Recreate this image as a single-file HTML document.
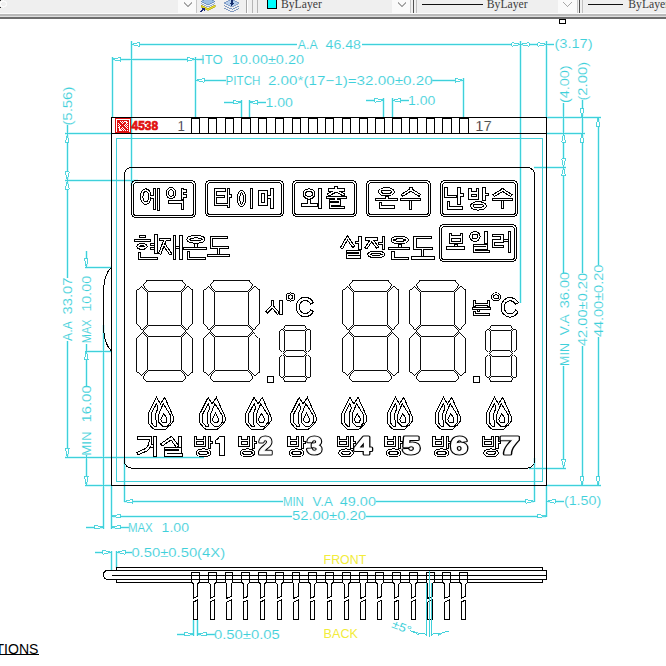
<!DOCTYPE html>
<html><head><meta charset="utf-8"><title>LCD drawing</title>
<style>
html,body{margin:0;padding:0;background:#fff;overflow:hidden;}
body{width:666px;height:666px;font-family:"Liberation Sans",sans-serif;}
svg{display:block;}
</style></head>
<body>
<svg width="666" height="666" viewBox="0 0 666 666" shape-rendering="crispEdges">
<rect width="666" height="666" fill="#fff"/>
<g stroke="#d2f8fb" stroke-width="3"><line x1="131" y1="44.4" x2="296.5" y2="44.4"/>
<line x1="362" y1="44.4" x2="553.5" y2="44.4"/>
<line x1="131" y1="41" x2="131" y2="186"/>
<line x1="520.4" y1="41" x2="520.4" y2="303"/>
<line x1="546.4" y1="41" x2="546.4" y2="117.5"/>
<line x1="112" y1="59.3" x2="203.5" y2="59.3"/>
<line x1="112" y1="57" x2="112" y2="117.5"/>
<line x1="195.7" y1="57" x2="195.7" y2="117.5"/>
<line x1="195.7" y1="80.3" x2="226" y2="80.3"/>
<line x1="432" y1="80.3" x2="463.7" y2="80.3"/>
<line x1="463.7" y1="78" x2="463.7" y2="117.5"/>
<line x1="223.7" y1="102.2" x2="241.6" y2="102.2"/>
<line x1="249.3" y1="102.2" x2="266" y2="102.2"/>
<line x1="241.6" y1="99.5" x2="241.6" y2="117.5"/>
<line x1="249.3" y1="99.5" x2="249.3" y2="117.5"/>
<line x1="366" y1="100.3" x2="383.1" y2="100.3"/>
<line x1="392.3" y1="100.3" x2="408.6" y2="100.3"/>
<line x1="383.1" y1="97.5" x2="383.1" y2="117.5"/>
<line x1="392.3" y1="97.5" x2="392.3" y2="117.5"/>
<line x1="563.6" y1="102.5" x2="563.6" y2="272.5"/>
<line x1="563.6" y1="365.5" x2="563.6" y2="468.2"/>
<line x1="534.3" y1="167.3" x2="566" y2="167.3"/>
<line x1="528.5" y1="468" x2="566" y2="468"/>
<line x1="582" y1="100" x2="582" y2="273.4"/>
<line x1="582" y1="345.6" x2="582" y2="485.3"/>
<line x1="546.4" y1="133.4" x2="584.5" y2="133.4"/>
<line x1="598" y1="117.4" x2="598" y2="265.3"/>
<line x1="598" y1="336.6" x2="598" y2="485.3"/>
<line x1="546.4" y1="117.4" x2="600.5" y2="117.4"/>
<line x1="546.4" y1="485.3" x2="600.5" y2="485.3"/>
<line x1="67.3" y1="125" x2="67.3" y2="278"/>
<line x1="67.3" y1="340.5" x2="67.3" y2="457"/>
<line x1="64.5" y1="133.5" x2="111.5" y2="133.5"/>
<line x1="64.5" y1="180.4" x2="137.5" y2="180.4"/>
<line x1="64.5" y1="457" x2="204" y2="457"/>
<line x1="86.3" y1="250.8" x2="86.3" y2="267.2"/>
<line x1="86.3" y1="343.8" x2="86.3" y2="385.8"/>
<line x1="86.3" y1="455.3" x2="86.3" y2="485"/>
<line x1="84.5" y1="267.2" x2="111.5" y2="267.2"/>
<line x1="84.5" y1="351" x2="111.5" y2="351"/>
<line x1="84.5" y1="485" x2="111.5" y2="485"/>
<line x1="103.4" y1="324.5" x2="103.4" y2="529"/>
<line x1="111.6" y1="485" x2="111.6" y2="529"/>
<line x1="86" y1="527.2" x2="103.4" y2="527.2"/>
<line x1="111.6" y1="527.2" x2="128.5" y2="527.2"/>
<line x1="124.3" y1="458" x2="124.3" y2="502"/>
<line x1="534.3" y1="458" x2="534.3" y2="502"/>
<line x1="124.3" y1="501.3" x2="283" y2="501.3"/>
<line x1="375.8" y1="501.3" x2="534.3" y2="501.3"/>
<line x1="546.4" y1="485.5" x2="546.4" y2="517"/>
<line x1="111.6" y1="516.1" x2="292" y2="516.1"/>
<line x1="366" y1="516.1" x2="546.4" y2="516.1"/>
<line x1="546.4" y1="501.3" x2="563.8" y2="501.3"/>
<line x1="111.4" y1="550.5" x2="111.4" y2="570.6"/>
<line x1="116.4" y1="550.5" x2="116.4" y2="567.5"/>
<line x1="95" y1="552.3" x2="111.4" y2="552.3"/>
<line x1="116.4" y1="552.3" x2="132.3" y2="552.3"/>
<line x1="193.5" y1="619.5" x2="193.5" y2="636"/>
<line x1="197.4" y1="619.5" x2="197.4" y2="636"/>
<line x1="176.7" y1="634.2" x2="193.5" y2="634.2"/>
<line x1="197.4" y1="634.2" x2="214.6" y2="634.2"/></g>
<line x1="131" y1="44.4" x2="296.5" y2="44.4" stroke="#3fd0da" stroke-width="1"/>
<line x1="362" y1="44.4" x2="553.5" y2="44.4" stroke="#3fd0da" stroke-width="1"/>
<line x1="131" y1="41" x2="131" y2="186" stroke="#3fd0da" stroke-width="1"/>
<polygon points="131,44.4 139.6,42.5 139.6,46.3" fill="#fff" stroke="#3fd0da" stroke-width="0.9"/>
<polygon points="520.4,44.4 511.8,42.5 511.8,46.3" fill="#fff" stroke="#3fd0da" stroke-width="0.9"/>
<polygon points="520.4,44.4 529,42.5 529,46.3" fill="#fff" stroke="#3fd0da" stroke-width="0.9"/>
<polygon points="546.4,44.4 537.8,42.5 537.8,46.3" fill="#fff" stroke="#3fd0da" stroke-width="0.9"/>
<line x1="520.4" y1="41" x2="520.4" y2="303" stroke="#3fd0da" stroke-width="1"/>
<line x1="546.4" y1="41" x2="546.4" y2="117.5" stroke="#3fd0da" stroke-width="1"/>
<text xml:space="preserve" x="297.8" y="49.2" font-family="Liberation Sans" font-size="12.4" font-weight="normal" fill="#3fd0da" text-anchor="start" textLength="19.8" lengthAdjust="spacingAndGlyphs" stroke="#fff" stroke-width="0.12">A.A</text>
<text xml:space="preserve" x="325.6" y="49.2" font-family="Liberation Sans" font-size="12.4" font-weight="normal" fill="#3fd0da" text-anchor="start" textLength="35.3" lengthAdjust="spacingAndGlyphs" stroke="#fff" stroke-width="0.12">46.48</text>
<text xml:space="preserve" x="554.4" y="48.2" font-family="Liberation Sans" font-size="12.4" font-weight="normal" fill="#3fd0da" text-anchor="start" textLength="38.2" lengthAdjust="spacingAndGlyphs" stroke="#fff" stroke-width="0.12">(3.17)</text>
<line x1="112" y1="59.3" x2="203.5" y2="59.3" stroke="#3fd0da" stroke-width="1"/>
<line x1="112" y1="57" x2="112" y2="117.5" stroke="#3fd0da" stroke-width="1"/>
<line x1="195.7" y1="57" x2="195.7" y2="117.5" stroke="#3fd0da" stroke-width="1"/>
<polygon points="112,59.3 120.6,57.4 120.6,61.2" fill="#fff" stroke="#3fd0da" stroke-width="0.9"/>
<polygon points="195.7,59.3 187.1,57.4 187.1,61.2" fill="#fff" stroke="#3fd0da" stroke-width="0.9"/>
<text xml:space="preserve" x="201" y="63.8" font-family="Liberation Sans" font-size="12.4" font-weight="normal" fill="#3fd0da" text-anchor="start" textLength="21.6" lengthAdjust="spacingAndGlyphs" stroke="#fff" stroke-width="0.12">ITO</text>
<text xml:space="preserve" x="231.8" y="63.8" font-family="Liberation Sans" font-size="12.4" font-weight="normal" fill="#3fd0da" text-anchor="start" textLength="72.2" lengthAdjust="spacingAndGlyphs" stroke="#fff" stroke-width="0.12">10.00±0.20</text>
<line x1="195.7" y1="80.3" x2="226" y2="80.3" stroke="#3fd0da" stroke-width="1"/>
<line x1="432" y1="80.3" x2="463.7" y2="80.3" stroke="#3fd0da" stroke-width="1"/>
<line x1="463.7" y1="78" x2="463.7" y2="117.5" stroke="#3fd0da" stroke-width="1"/>
<polygon points="195.7,80.3 204.3,78.4 204.3,82.2" fill="#fff" stroke="#3fd0da" stroke-width="0.9"/>
<polygon points="463.7,80.3 455.1,78.4 455.1,82.2" fill="#fff" stroke="#3fd0da" stroke-width="0.9"/>
<text xml:space="preserve" x="225.6" y="84.6" font-family="Liberation Sans" font-size="12.4" font-weight="normal" fill="#3fd0da" text-anchor="start" textLength="34.8" lengthAdjust="spacingAndGlyphs" stroke="#fff" stroke-width="0.12">PITCH</text>
<text xml:space="preserve" x="267.9" y="84.6" font-family="Liberation Sans" font-size="12.4" font-weight="normal" fill="#3fd0da" text-anchor="start" textLength="164.7" lengthAdjust="spacingAndGlyphs" stroke="#fff" stroke-width="0.12">2.00*(17−1)=32.00±0.20</text>
<line x1="223.7" y1="102.2" x2="241.6" y2="102.2" stroke="#3fd0da" stroke-width="1"/>
<line x1="249.3" y1="102.2" x2="266" y2="102.2" stroke="#3fd0da" stroke-width="1"/>
<line x1="241.6" y1="99.5" x2="241.6" y2="117.5" stroke="#3fd0da" stroke-width="1"/>
<line x1="249.3" y1="99.5" x2="249.3" y2="117.5" stroke="#3fd0da" stroke-width="1"/>
<polygon points="241.6,102.2 233,100.3 233,104.1" fill="#fff" stroke="#3fd0da" stroke-width="0.9"/>
<polygon points="249.3,102.2 257.9,100.3 257.9,104.1" fill="#fff" stroke="#3fd0da" stroke-width="0.9"/>
<text xml:space="preserve" x="265.4" y="106.6" font-family="Liberation Sans" font-size="12.4" font-weight="normal" fill="#3fd0da" text-anchor="start" textLength="27.4" lengthAdjust="spacingAndGlyphs" stroke="#fff" stroke-width="0.12">1.00</text>
<line x1="366" y1="100.3" x2="383.1" y2="100.3" stroke="#3fd0da" stroke-width="1"/>
<line x1="392.3" y1="100.3" x2="408.6" y2="100.3" stroke="#3fd0da" stroke-width="1"/>
<line x1="383.1" y1="97.5" x2="383.1" y2="117.5" stroke="#3fd0da" stroke-width="1"/>
<line x1="392.3" y1="97.5" x2="392.3" y2="117.5" stroke="#3fd0da" stroke-width="1"/>
<polygon points="383.1,100.3 374.5,98.4 374.5,102.2" fill="#fff" stroke="#3fd0da" stroke-width="0.9"/>
<polygon points="392.3,100.3 400.9,98.4 400.9,102.2" fill="#fff" stroke="#3fd0da" stroke-width="0.9"/>
<text xml:space="preserve" x="408" y="105.2" font-family="Liberation Sans" font-size="12.4" font-weight="normal" fill="#3fd0da" text-anchor="start" textLength="27.3" lengthAdjust="spacingAndGlyphs" stroke="#fff" stroke-width="0.12">1.00</text>
<line x1="563.6" y1="102.5" x2="563.6" y2="272.5" stroke="#3fd0da" stroke-width="1"/>
<line x1="563.6" y1="365.5" x2="563.6" y2="468.2" stroke="#3fd0da" stroke-width="1"/>
<polygon points="563.6,133.4 561.7,142 565.5,142" fill="#fff" stroke="#3fd0da" stroke-width="0.9"/>
<polygon points="563.6,167.3 561.7,158.7 565.5,158.7" fill="#fff" stroke="#3fd0da" stroke-width="0.9"/>
<polygon points="563.6,167.3 561.7,175.9 565.5,175.9" fill="#fff" stroke="#3fd0da" stroke-width="0.9"/>
<polygon points="563.6,468 561.7,459.4 565.5,459.4" fill="#fff" stroke="#3fd0da" stroke-width="0.9"/>
<line x1="534.3" y1="167.3" x2="566" y2="167.3" stroke="#3fd0da" stroke-width="1"/>
<line x1="528.5" y1="468" x2="566" y2="468" stroke="#3fd0da" stroke-width="1"/>
<text xml:space="preserve" x="568.6" y="103.1" font-family="Liberation Sans" font-size="12.4" font-weight="normal" fill="#3fd0da" text-anchor="start" textLength="37.7" lengthAdjust="spacingAndGlyphs" transform="rotate(-90 568.6 103.1)" stroke="#fff" stroke-width="0.12">(4.00)</text>
<text xml:space="preserve" x="568.8" y="365.9" font-family="Liberation Sans" font-size="12.4" font-weight="normal" fill="#3fd0da" text-anchor="start" textLength="22.8" lengthAdjust="spacingAndGlyphs" transform="rotate(-90 568.8 365.9)" stroke="#fff" stroke-width="0.12">MIN</text>
<text xml:space="preserve" x="568.8" y="335.3" font-family="Liberation Sans" font-size="12.4" font-weight="normal" fill="#3fd0da" text-anchor="start" textLength="21" lengthAdjust="spacingAndGlyphs" transform="rotate(-90 568.8 335.3)" stroke="#fff" stroke-width="0.12">V.A</text>
<text xml:space="preserve" x="568.8" y="308.3" font-family="Liberation Sans" font-size="12.4" font-weight="normal" fill="#3fd0da" text-anchor="start" textLength="36.4" lengthAdjust="spacingAndGlyphs" transform="rotate(-90 568.8 308.3)" stroke="#fff" stroke-width="0.12">36.00</text>
<line x1="582" y1="100" x2="582" y2="273.4" stroke="#3fd0da" stroke-width="1"/>
<line x1="582" y1="345.6" x2="582" y2="485.3" stroke="#3fd0da" stroke-width="1"/>
<polygon points="582,117.4 580.1,108.8 583.9,108.8" fill="#fff" stroke="#3fd0da" stroke-width="0.9"/>
<polygon points="582,133.4 580.1,142 583.9,142" fill="#fff" stroke="#3fd0da" stroke-width="0.9"/>
<polygon points="582,485.3 580.1,476.7 583.9,476.7" fill="#fff" stroke="#3fd0da" stroke-width="0.9"/>
<line x1="546.4" y1="133.4" x2="584.5" y2="133.4" stroke="#3fd0da" stroke-width="1"/>
<text xml:space="preserve" x="587" y="100.6" font-family="Liberation Sans" font-size="12.4" font-weight="normal" fill="#3fd0da" text-anchor="start" textLength="38.7" lengthAdjust="spacingAndGlyphs" transform="rotate(-90 587 100.6)" stroke="#fff" stroke-width="0.12">(2.00)</text>
<text xml:space="preserve" x="587.2" y="346.1" font-family="Liberation Sans" font-size="12.4" font-weight="normal" fill="#3fd0da" text-anchor="start" textLength="73.3" lengthAdjust="spacingAndGlyphs" transform="rotate(-90 587.2 346.1)" stroke="#fff" stroke-width="0.12">42.00±0.20</text>
<line x1="598" y1="117.4" x2="598" y2="265.3" stroke="#3fd0da" stroke-width="1"/>
<line x1="598" y1="336.6" x2="598" y2="485.3" stroke="#3fd0da" stroke-width="1"/>
<polygon points="598,117.4 596.1,126 599.9,126" fill="#fff" stroke="#3fd0da" stroke-width="0.9"/>
<polygon points="598,485.3 596.1,476.7 599.9,476.7" fill="#fff" stroke="#3fd0da" stroke-width="0.9"/>
<line x1="546.4" y1="117.4" x2="600.5" y2="117.4" stroke="#3fd0da" stroke-width="1"/>
<line x1="546.4" y1="485.3" x2="600.5" y2="485.3" stroke="#3fd0da" stroke-width="1"/>
<text xml:space="preserve" x="602.6" y="337.1" font-family="Liberation Sans" font-size="12.4" font-weight="normal" fill="#3fd0da" text-anchor="start" textLength="72.4" lengthAdjust="spacingAndGlyphs" transform="rotate(-90 602.6 337.1)" stroke="#fff" stroke-width="0.12">44.00±0.20</text>
<line x1="67.3" y1="125" x2="67.3" y2="278" stroke="#3fd0da" stroke-width="1"/>
<line x1="67.3" y1="340.5" x2="67.3" y2="457" stroke="#3fd0da" stroke-width="1"/>
<polygon points="67.3,133.5 65.4,142.1 69.2,142.1" fill="#fff" stroke="#3fd0da" stroke-width="0.9"/>
<polygon points="67.3,180.4 65.4,171.8 69.2,171.8" fill="#fff" stroke="#3fd0da" stroke-width="0.9"/>
<polygon points="67.3,180.4 65.4,189 69.2,189" fill="#fff" stroke="#3fd0da" stroke-width="0.9"/>
<polygon points="67.3,457 65.4,448.4 69.2,448.4" fill="#fff" stroke="#3fd0da" stroke-width="0.9"/>
<line x1="64.5" y1="133.5" x2="111.5" y2="133.5" stroke="#3fd0da" stroke-width="1"/>
<line x1="64.5" y1="180.4" x2="137.5" y2="180.4" stroke="#3fd0da" stroke-width="1"/>
<line x1="64.5" y1="457" x2="204" y2="457" stroke="#3fd0da" stroke-width="1"/>
<text xml:space="preserve" x="72.4" y="125.6" font-family="Liberation Sans" font-size="12.4" font-weight="normal" fill="#3fd0da" text-anchor="start" textLength="39" lengthAdjust="spacingAndGlyphs" transform="rotate(-90 72.4 125.6)" stroke="#fff" stroke-width="0.12">(5.56)</text>
<text xml:space="preserve" x="72" y="340.9" font-family="Liberation Sans" font-size="12.4" font-weight="normal" fill="#3fd0da" text-anchor="start" textLength="19.9" lengthAdjust="spacingAndGlyphs" transform="rotate(-90 72 340.9)" stroke="#fff" stroke-width="0.12">A.A</text>
<text xml:space="preserve" x="72" y="314.6" font-family="Liberation Sans" font-size="12.4" font-weight="normal" fill="#3fd0da" text-anchor="start" textLength="37.2" lengthAdjust="spacingAndGlyphs" transform="rotate(-90 72 314.6)" stroke="#fff" stroke-width="0.12">33.07</text>
<line x1="86.3" y1="250.8" x2="86.3" y2="267.2" stroke="#3fd0da" stroke-width="1"/>
<line x1="86.3" y1="343.8" x2="86.3" y2="385.8" stroke="#3fd0da" stroke-width="1"/>
<line x1="86.3" y1="455.3" x2="86.3" y2="485" stroke="#3fd0da" stroke-width="1"/>
<polygon points="86.3,267.2 84.4,258.6 88.2,258.6" fill="#fff" stroke="#3fd0da" stroke-width="0.9"/>
<polygon points="86.3,351 84.4,359.6 88.2,359.6" fill="#fff" stroke="#3fd0da" stroke-width="0.9"/>
<polygon points="86.3,485 84.4,476.4 88.2,476.4" fill="#fff" stroke="#3fd0da" stroke-width="0.9"/>
<line x1="84.5" y1="267.2" x2="111.5" y2="267.2" stroke="#3fd0da" stroke-width="1"/>
<line x1="84.5" y1="351" x2="111.5" y2="351" stroke="#3fd0da" stroke-width="1"/>
<line x1="84.5" y1="485" x2="111.5" y2="485" stroke="#3fd0da" stroke-width="1"/>
<text xml:space="preserve" x="91.3" y="343.2" font-family="Liberation Sans" font-size="12.4" font-weight="normal" fill="#3fd0da" text-anchor="start" textLength="23.8" lengthAdjust="spacingAndGlyphs" transform="rotate(-90 91.3 343.2)" stroke="#fff" stroke-width="0.12">MAX</text>
<text xml:space="preserve" x="91.3" y="311.6" font-family="Liberation Sans" font-size="12.4" font-weight="normal" fill="#3fd0da" text-anchor="start" textLength="35.7" lengthAdjust="spacingAndGlyphs" transform="rotate(-90 91.3 311.6)" stroke="#fff" stroke-width="0.12">10.00</text>
<text xml:space="preserve" x="91.3" y="455.8" font-family="Liberation Sans" font-size="12.4" font-weight="normal" fill="#3fd0da" text-anchor="start" textLength="24.6" lengthAdjust="spacingAndGlyphs" transform="rotate(-90 91.3 455.8)" stroke="#fff" stroke-width="0.12">MIN</text>
<text xml:space="preserve" x="91.3" y="422.6" font-family="Liberation Sans" font-size="12.4" font-weight="normal" fill="#3fd0da" text-anchor="start" textLength="37.3" lengthAdjust="spacingAndGlyphs" transform="rotate(-90 91.3 422.6)" stroke="#fff" stroke-width="0.12">16.00</text>
<line x1="103.4" y1="324.5" x2="103.4" y2="529" stroke="#3fd0da" stroke-width="1"/>
<line x1="111.6" y1="485" x2="111.6" y2="529" stroke="#3fd0da" stroke-width="1"/>
<line x1="86" y1="527.2" x2="103.4" y2="527.2" stroke="#3fd0da" stroke-width="1"/>
<line x1="111.6" y1="527.2" x2="128.5" y2="527.2" stroke="#3fd0da" stroke-width="1"/>
<polygon points="103.4,527.2 94.8,525.3 94.8,529.1" fill="#fff" stroke="#3fd0da" stroke-width="0.9"/>
<polygon points="111.6,527.2 120.2,525.3 120.2,529.1" fill="#fff" stroke="#3fd0da" stroke-width="0.9"/>
<text xml:space="preserve" x="127.9" y="532.2" font-family="Liberation Sans" font-size="12.4" font-weight="normal" fill="#3fd0da" text-anchor="start" textLength="24.9" lengthAdjust="spacingAndGlyphs" stroke="#fff" stroke-width="0.12">MAX</text>
<text xml:space="preserve" x="161.6" y="532.2" font-family="Liberation Sans" font-size="12.4" font-weight="normal" fill="#3fd0da" text-anchor="start" textLength="27.4" lengthAdjust="spacingAndGlyphs" stroke="#fff" stroke-width="0.12">1.00</text>
<line x1="124.3" y1="458" x2="124.3" y2="502" stroke="#3fd0da" stroke-width="1"/>
<line x1="534.3" y1="458" x2="534.3" y2="502" stroke="#3fd0da" stroke-width="1"/>
<line x1="124.3" y1="501.3" x2="283" y2="501.3" stroke="#3fd0da" stroke-width="1"/>
<line x1="375.8" y1="501.3" x2="534.3" y2="501.3" stroke="#3fd0da" stroke-width="1"/>
<polygon points="124.3,501.3 132.9,499.4 132.9,503.2" fill="#fff" stroke="#3fd0da" stroke-width="0.9"/>
<polygon points="534.3,501.3 525.7,499.4 525.7,503.2" fill="#fff" stroke="#3fd0da" stroke-width="0.9"/>
<text xml:space="preserve" x="282.9" y="506" font-family="Liberation Sans" font-size="12.4" font-weight="normal" fill="#3fd0da" text-anchor="start" textLength="21" lengthAdjust="spacingAndGlyphs" stroke="#fff" stroke-width="0.12">MIN</text>
<text xml:space="preserve" x="312.6" y="506" font-family="Liberation Sans" font-size="12.4" font-weight="normal" fill="#3fd0da" text-anchor="start" textLength="20.2" lengthAdjust="spacingAndGlyphs" stroke="#fff" stroke-width="0.12">V.A</text>
<text xml:space="preserve" x="339.7" y="506" font-family="Liberation Sans" font-size="12.4" font-weight="normal" fill="#3fd0da" text-anchor="start" textLength="36.3" lengthAdjust="spacingAndGlyphs" stroke="#fff" stroke-width="0.12">49.00</text>
<line x1="546.4" y1="485.5" x2="546.4" y2="517" stroke="#3fd0da" stroke-width="1"/>
<line x1="111.6" y1="516.1" x2="292" y2="516.1" stroke="#3fd0da" stroke-width="1"/>
<line x1="366" y1="516.1" x2="546.4" y2="516.1" stroke="#3fd0da" stroke-width="1"/>
<polygon points="111.6,516.1 120.2,514.2 120.2,518" fill="#fff" stroke="#3fd0da" stroke-width="0.9"/>
<polygon points="546.4,516.1 537.8,514.2 537.8,518" fill="#fff" stroke="#3fd0da" stroke-width="0.9"/>
<text xml:space="preserve" x="291.9" y="520.3" font-family="Liberation Sans" font-size="12.4" font-weight="normal" fill="#3fd0da" text-anchor="start" textLength="74.2" lengthAdjust="spacingAndGlyphs" stroke="#fff" stroke-width="0.12">52.00±0.20</text>
<line x1="546.4" y1="501.3" x2="563.8" y2="501.3" stroke="#3fd0da" stroke-width="1"/>
<polygon points="546.4,501.3 555,499.4 555,503.2" fill="#fff" stroke="#3fd0da" stroke-width="0.9"/>
<text xml:space="preserve" x="563.9" y="505.2" font-family="Liberation Sans" font-size="12.4" font-weight="normal" fill="#3fd0da" text-anchor="start" textLength="37.3" lengthAdjust="spacingAndGlyphs" stroke="#fff" stroke-width="0.12">(1.50)</text>
<line x1="111.4" y1="550.5" x2="111.4" y2="570.6" stroke="#3fd0da" stroke-width="1"/>
<line x1="116.4" y1="550.5" x2="116.4" y2="567.5" stroke="#3fd0da" stroke-width="1"/>
<line x1="95" y1="552.3" x2="111.4" y2="552.3" stroke="#3fd0da" stroke-width="1"/>
<line x1="116.4" y1="552.3" x2="132.3" y2="552.3" stroke="#3fd0da" stroke-width="1"/>
<polygon points="111.4,552.3 102.8,550.4 102.8,554.2" fill="#fff" stroke="#3fd0da" stroke-width="0.9"/>
<polygon points="116.4,552.3 125,550.4 125,554.2" fill="#fff" stroke="#3fd0da" stroke-width="0.9"/>
<text xml:space="preserve" x="131.4" y="557.2" font-family="Liberation Sans" font-size="12.4" font-weight="normal" fill="#3fd0da" text-anchor="start" textLength="93.7" lengthAdjust="spacingAndGlyphs" stroke="#fff" stroke-width="0.12">0.50±0.50(4X)</text>
<line x1="193.5" y1="619.5" x2="193.5" y2="636" stroke="#3fd0da" stroke-width="1"/>
<line x1="197.4" y1="619.5" x2="197.4" y2="636" stroke="#3fd0da" stroke-width="1"/>
<line x1="176.7" y1="634.2" x2="193.5" y2="634.2" stroke="#3fd0da" stroke-width="1"/>
<line x1="197.4" y1="634.2" x2="214.6" y2="634.2" stroke="#3fd0da" stroke-width="1"/>
<polygon points="193.5,634.2 184.9,632.3 184.9,636.1" fill="#fff" stroke="#3fd0da" stroke-width="0.9"/>
<polygon points="197.4,634.2 206,632.3 206,636.1" fill="#fff" stroke="#3fd0da" stroke-width="0.9"/>
<text xml:space="preserve" x="214" y="639" font-family="Liberation Sans" font-size="12.4" font-weight="normal" fill="#3fd0da" text-anchor="start" textLength="65.8" lengthAdjust="spacingAndGlyphs" stroke="#fff" stroke-width="0.12">0.50±0.05</text>
<rect x="111.5" y="117.4" width="435" height="367.8" rx="0" fill="none" stroke="#000" stroke-width="1"/>
<line x1="111.5" y1="133.4" x2="546.5" y2="133.4" stroke="#000" stroke-width="1"/>
<line x1="191.5" y1="117.4" x2="191.5" y2="133.4" stroke="#000" stroke-width="1.0"/>
<line x1="199.88" y1="117.4" x2="199.88" y2="133.4" stroke="#000" stroke-width="1.0"/>
<line x1="208.26" y1="117.4" x2="208.26" y2="133.4" stroke="#000" stroke-width="1.0"/>
<line x1="216.64" y1="117.4" x2="216.64" y2="133.4" stroke="#000" stroke-width="1.0"/>
<line x1="225.02" y1="117.4" x2="225.02" y2="133.4" stroke="#000" stroke-width="1.0"/>
<line x1="233.4" y1="117.4" x2="233.4" y2="133.4" stroke="#000" stroke-width="1.0"/>
<line x1="241.78" y1="117.4" x2="241.78" y2="133.4" stroke="#000" stroke-width="1.0"/>
<line x1="250.16" y1="117.4" x2="250.16" y2="133.4" stroke="#000" stroke-width="1.0"/>
<line x1="258.54" y1="117.4" x2="258.54" y2="133.4" stroke="#000" stroke-width="1.0"/>
<line x1="266.92" y1="117.4" x2="266.92" y2="133.4" stroke="#000" stroke-width="1.0"/>
<line x1="275.3" y1="117.4" x2="275.3" y2="133.4" stroke="#000" stroke-width="1.0"/>
<line x1="283.68" y1="117.4" x2="283.68" y2="133.4" stroke="#000" stroke-width="1.0"/>
<line x1="292.06" y1="117.4" x2="292.06" y2="133.4" stroke="#000" stroke-width="1.0"/>
<line x1="300.44" y1="117.4" x2="300.44" y2="133.4" stroke="#000" stroke-width="1.0"/>
<line x1="308.82" y1="117.4" x2="308.82" y2="133.4" stroke="#000" stroke-width="1.0"/>
<line x1="317.2" y1="117.4" x2="317.2" y2="133.4" stroke="#000" stroke-width="1.0"/>
<line x1="325.58" y1="117.4" x2="325.58" y2="133.4" stroke="#000" stroke-width="1.0"/>
<line x1="333.96" y1="117.4" x2="333.96" y2="133.4" stroke="#000" stroke-width="1.0"/>
<line x1="342.34" y1="117.4" x2="342.34" y2="133.4" stroke="#000" stroke-width="1.0"/>
<line x1="350.72" y1="117.4" x2="350.72" y2="133.4" stroke="#000" stroke-width="1.0"/>
<line x1="359.1" y1="117.4" x2="359.1" y2="133.4" stroke="#000" stroke-width="1.0"/>
<line x1="367.48" y1="117.4" x2="367.48" y2="133.4" stroke="#000" stroke-width="1.0"/>
<line x1="375.86" y1="117.4" x2="375.86" y2="133.4" stroke="#000" stroke-width="1.0"/>
<line x1="384.24" y1="117.4" x2="384.24" y2="133.4" stroke="#000" stroke-width="1.0"/>
<line x1="392.62" y1="117.4" x2="392.62" y2="133.4" stroke="#000" stroke-width="1.0"/>
<line x1="401" y1="117.4" x2="401" y2="133.4" stroke="#000" stroke-width="1.0"/>
<line x1="409.38" y1="117.4" x2="409.38" y2="133.4" stroke="#000" stroke-width="1.0"/>
<line x1="417.76" y1="117.4" x2="417.76" y2="133.4" stroke="#000" stroke-width="1.0"/>
<line x1="426.14" y1="117.4" x2="426.14" y2="133.4" stroke="#000" stroke-width="1.0"/>
<line x1="434.52" y1="117.4" x2="434.52" y2="133.4" stroke="#000" stroke-width="1.0"/>
<line x1="442.9" y1="117.4" x2="442.9" y2="133.4" stroke="#000" stroke-width="1.0"/>
<line x1="451.28" y1="117.4" x2="451.28" y2="133.4" stroke="#000" stroke-width="1.0"/>
<line x1="459.66" y1="117.4" x2="459.66" y2="133.4" stroke="#000" stroke-width="1.0"/>
<line x1="468.04" y1="117.4" x2="468.04" y2="133.4" stroke="#000" stroke-width="1.0"/>
<line x1="191.5" y1="118.5" x2="199.88" y2="118.5" stroke="#000" stroke-width="1.0"/>
<line x1="208.26" y1="118.5" x2="216.64" y2="118.5" stroke="#000" stroke-width="1.0"/>
<line x1="225.02" y1="118.5" x2="233.4" y2="118.5" stroke="#000" stroke-width="1.0"/>
<line x1="241.78" y1="118.5" x2="250.16" y2="118.5" stroke="#000" stroke-width="1.0"/>
<line x1="258.54" y1="118.5" x2="266.92" y2="118.5" stroke="#000" stroke-width="1.0"/>
<line x1="275.3" y1="118.5" x2="283.68" y2="118.5" stroke="#000" stroke-width="1.0"/>
<line x1="292.06" y1="118.5" x2="300.44" y2="118.5" stroke="#000" stroke-width="1.0"/>
<line x1="308.82" y1="118.5" x2="317.2" y2="118.5" stroke="#000" stroke-width="1.0"/>
<line x1="325.58" y1="118.5" x2="333.96" y2="118.5" stroke="#000" stroke-width="1.0"/>
<line x1="342.34" y1="118.5" x2="350.72" y2="118.5" stroke="#000" stroke-width="1.0"/>
<line x1="359.1" y1="118.5" x2="367.48" y2="118.5" stroke="#000" stroke-width="1.0"/>
<line x1="375.86" y1="118.5" x2="384.24" y2="118.5" stroke="#000" stroke-width="1.0"/>
<line x1="392.62" y1="118.5" x2="401" y2="118.5" stroke="#000" stroke-width="1.0"/>
<line x1="409.38" y1="118.5" x2="417.76" y2="118.5" stroke="#000" stroke-width="1.0"/>
<line x1="426.14" y1="118.5" x2="434.52" y2="118.5" stroke="#000" stroke-width="1.0"/>
<line x1="442.9" y1="118.5" x2="451.28" y2="118.5" stroke="#000" stroke-width="1.0"/>
<line x1="459.66" y1="118.5" x2="468.04" y2="118.5" stroke="#000" stroke-width="1.0"/>
<text xml:space="preserve" x="177.6" y="131" font-family="Liberation Sans" font-size="14" font-weight="normal" fill="#000" text-anchor="start" textLength="7.4" lengthAdjust="spacingAndGlyphs" stroke="#fff" stroke-width="0.3">1</text>
<text xml:space="preserve" x="475.2" y="131" font-family="Liberation Sans" font-size="14" font-weight="normal" fill="#000" text-anchor="start" textLength="16.6" lengthAdjust="spacingAndGlyphs" stroke="#fff" stroke-width="0.3">17</text>
<path d="M111.5 267.2 C106 272, 103.6 282, 103.6 292 L103.6 325 C103.6 336, 106 346, 111.5 350.8" fill="none" stroke="#000" stroke-width="1"/>
<rect x="124.5" y="167.5" width="410" height="300.5" rx="7" fill="none" stroke="#000" stroke-width="1"/>
<rect x="116.4" y="138.5" width="426.3" height="342.5" rx="0" fill="none" stroke="#3fd0da" stroke-width="1"/>
<defs><pattern id="chk" width="2" height="2" patternUnits="userSpaceOnUse"><rect width="2" height="2" fill="#fff"/><rect width="1" height="1" fill="#e01010"/><rect x="1" y="1" width="1" height="1" fill="#e01010"/></pattern></defs>
<rect x="115.5" y="118.5" width="14.5" height="14" rx="0" fill="#fff" stroke="#e01010" stroke-width="1"/>
<rect x="117.5" y="120.5" width="10.5" height="10.5" rx="0" fill="url(#chk)" stroke="#e01010" stroke-width="1"/>
<path d="M118.5 121.5 L127 130 M127 121.5 L118.5 130" fill="none" stroke="#e01010" stroke-width="1.2"/>
<path d="M119 127 L119 130 L122 130 M126.5 121 L126.5 124 M123.5 121 H126.5" fill="none" stroke="#fff" stroke-width="1"/>
<text xml:space="preserve" x="131.6" y="130" font-family="Liberation Sans" font-size="12.4" font-weight="bold" fill="#e01010" text-anchor="start" textLength="26.4" lengthAdjust="spacingAndGlyphs" fill="url(#chk)" stroke="#e01010" stroke-width="0.7">4538</text>
<rect x="131.5" y="180.5" width="64" height="37" rx="4.5" fill="none" stroke="#000" stroke-width="1"/>
<rect x="133.5" y="182.5" width="60" height="33" rx="3" fill="none" stroke="#000" stroke-width="1"/>
<rect x="205.5" y="180.5" width="78" height="36" rx="4.5" fill="none" stroke="#000" stroke-width="1"/>
<rect x="207.5" y="182.5" width="74" height="32" rx="3" fill="none" stroke="#000" stroke-width="1"/>
<rect x="292.5" y="180.5" width="64" height="36" rx="4.5" fill="none" stroke="#000" stroke-width="1"/>
<rect x="294.5" y="182.5" width="60" height="32" rx="3" fill="none" stroke="#000" stroke-width="1"/>
<rect x="366.5" y="180.5" width="64" height="36" rx="4.5" fill="none" stroke="#000" stroke-width="1"/>
<rect x="368.5" y="182.5" width="60" height="32" rx="3" fill="none" stroke="#000" stroke-width="1"/>
<rect x="440.5" y="180.5" width="77" height="36" rx="4.5" fill="none" stroke="#000" stroke-width="1"/>
<rect x="442.5" y="182.5" width="73" height="32" rx="3" fill="none" stroke="#000" stroke-width="1"/>
<rect x="439.5" y="224.5" width="77" height="37" rx="4.5" fill="none" stroke="#000" stroke-width="1"/>
<rect x="441.5" y="226.5" width="73" height="33" rx="3" fill="none" stroke="#000" stroke-width="1"/>
<polygon points="142.68,284.94 146.48,280.5 182.52,280.5 186.32,284.94 180.41,291.51 148.59,291.51" fill="none" stroke="#000" stroke-width="0.95"/>
<polygon points="136.5,289.81 141.51,286.04 147.43,292.62 147.43,324.04 142.25,329.86 136.5,323.73" fill="none" stroke="#000" stroke-width="0.95"/>
<polygon points="143.35,331.04 148.59,325.14 180.41,325.14 185.65,331.04 180.42,336.66 148.58,336.66" fill="none" stroke="#000" stroke-width="0.95"/>
<polygon points="136.5,338.37 142.27,332.22 147.43,337.77 147.43,369.38 141.51,375.96 136.5,372.19" fill="none" stroke="#000" stroke-width="0.95"/>
<polygon points="142.68,377.06 148.59,370.49 180.41,370.49 186.32,377.06 182.52,381.5 146.48,381.5" fill="none" stroke="#000" stroke-width="0.95"/>
<polygon points="192.5,289.81 187.49,286.04 181.57,292.62 181.57,324.04 186.75,329.86 192.5,323.73" fill="none" stroke="#000" stroke-width="0.95"/>
<polygon points="192.5,338.37 186.73,332.22 181.57,337.77 181.57,369.38 187.49,375.96 192.5,372.19" fill="none" stroke="#000" stroke-width="0.95"/>
<polygon points="209.68,284.94 213.48,280.5 249.52,280.5 253.32,284.94 247.41,291.51 215.59,291.51" fill="none" stroke="#000" stroke-width="0.95"/>
<polygon points="203.5,289.81 208.51,286.04 214.43,292.62 214.43,324.04 209.25,329.86 203.5,323.73" fill="none" stroke="#000" stroke-width="0.95"/>
<polygon points="210.35,331.04 215.59,325.14 247.41,325.14 252.65,331.04 247.42,336.66 215.58,336.66" fill="none" stroke="#000" stroke-width="0.95"/>
<polygon points="203.5,338.37 209.27,332.22 214.43,337.77 214.43,369.38 208.51,375.96 203.5,372.19" fill="none" stroke="#000" stroke-width="0.95"/>
<polygon points="209.68,377.06 215.59,370.49 247.41,370.49 253.32,377.06 249.52,381.5 213.48,381.5" fill="none" stroke="#000" stroke-width="0.95"/>
<polygon points="259.5,289.81 254.49,286.04 248.57,292.62 248.57,324.04 253.75,329.86 259.5,323.73" fill="none" stroke="#000" stroke-width="0.95"/>
<polygon points="259.5,338.37 253.73,332.22 248.57,337.77 248.57,369.38 254.49,375.96 259.5,372.19" fill="none" stroke="#000" stroke-width="0.95"/>
<polygon points="348.68,284.94 352.48,280.5 388.52,280.5 392.32,284.94 386.41,291.51 354.59,291.51" fill="none" stroke="#000" stroke-width="0.95"/>
<polygon points="342.5,289.81 347.51,286.04 353.43,292.62 353.43,324.04 348.25,329.86 342.5,323.73" fill="none" stroke="#000" stroke-width="0.95"/>
<polygon points="349.35,331.04 354.59,325.14 386.41,325.14 391.65,331.04 386.42,336.66 354.58,336.66" fill="none" stroke="#000" stroke-width="0.95"/>
<polygon points="342.5,338.37 348.27,332.22 353.43,337.77 353.43,369.38 347.51,375.96 342.5,372.19" fill="none" stroke="#000" stroke-width="0.95"/>
<polygon points="348.68,377.06 354.59,370.49 386.41,370.49 392.32,377.06 388.52,381.5 352.48,381.5" fill="none" stroke="#000" stroke-width="0.95"/>
<polygon points="398.5,289.81 393.49,286.04 387.57,292.62 387.57,324.04 392.75,329.86 398.5,323.73" fill="none" stroke="#000" stroke-width="0.95"/>
<polygon points="398.5,338.37 392.73,332.22 387.57,337.77 387.57,369.38 393.49,375.96 398.5,372.19" fill="none" stroke="#000" stroke-width="0.95"/>
<polygon points="415.68,284.94 419.48,280.5 455.52,280.5 459.32,284.94 453.41,291.51 421.59,291.51" fill="none" stroke="#000" stroke-width="0.95"/>
<polygon points="409.5,289.81 414.51,286.04 420.43,292.62 420.43,324.04 415.25,329.86 409.5,323.73" fill="none" stroke="#000" stroke-width="0.95"/>
<polygon points="416.35,331.04 421.59,325.14 453.41,325.14 458.65,331.04 453.42,336.66 421.58,336.66" fill="none" stroke="#000" stroke-width="0.95"/>
<polygon points="409.5,338.37 415.27,332.22 420.43,337.77 420.43,369.38 414.51,375.96 409.5,372.19" fill="none" stroke="#000" stroke-width="0.95"/>
<polygon points="415.68,377.06 421.59,370.49 453.41,370.49 459.32,377.06 455.52,381.5 419.48,381.5" fill="none" stroke="#000" stroke-width="0.95"/>
<polygon points="465.5,289.81 460.49,286.04 454.57,292.62 454.57,324.04 459.75,329.86 465.5,323.73" fill="none" stroke="#000" stroke-width="0.95"/>
<polygon points="465.5,338.37 459.73,332.22 454.57,337.77 454.57,369.38 460.49,375.96 465.5,372.19" fill="none" stroke="#000" stroke-width="0.95"/>
<polygon points="283.11,327.64 284.96,325.5 305.04,325.5 306.89,327.64 303.85,330.98 286.15,330.98" fill="none" stroke="#000" stroke-width="0.95"/>
<polygon points="279.5,330.55 281.94,328.73 284.99,332.09 284.99,349.46 282.4,352.35 279.5,349.28" fill="none" stroke="#000" stroke-width="0.95"/>
<polygon points="283.5,353.52 286.15,350.56 303.85,350.56 306.5,353.52 303.86,356.32 286.14,356.32" fill="none" stroke="#000" stroke-width="0.95"/>
<polygon points="279.5,357.78 282.42,354.7 284.99,357.44 284.99,374.91 281.94,378.27 279.5,376.45" fill="none" stroke="#000" stroke-width="0.95"/>
<polygon points="283.11,379.36 286.15,376.02 303.85,376.02 306.89,379.36 305.04,381.5 284.96,381.5" fill="none" stroke="#000" stroke-width="0.95"/>
<polygon points="310.5,330.55 308.06,328.73 305.01,332.09 305.01,349.46 307.6,352.35 310.5,349.28" fill="none" stroke="#000" stroke-width="0.95"/>
<polygon points="310.5,357.78 307.58,354.7 305.01,357.44 305.01,374.91 308.06,378.27 310.5,376.45" fill="none" stroke="#000" stroke-width="0.95"/>
<polygon points="489.11,327.64 490.96,325.5 511.04,325.5 512.89,327.64 509.85,330.98 492.15,330.98" fill="none" stroke="#000" stroke-width="0.95"/>
<polygon points="485.5,330.55 487.94,328.73 490.99,332.09 490.99,349.46 488.4,352.35 485.5,349.28" fill="none" stroke="#000" stroke-width="0.95"/>
<polygon points="489.5,353.52 492.15,350.56 509.85,350.56 512.5,353.52 509.86,356.32 492.14,356.32" fill="none" stroke="#000" stroke-width="0.95"/>
<polygon points="485.5,357.78 488.42,354.7 490.99,357.44 490.99,374.91 487.94,378.27 485.5,376.45" fill="none" stroke="#000" stroke-width="0.95"/>
<polygon points="489.11,379.36 492.15,376.02 509.85,376.02 512.89,379.36 511.04,381.5 490.96,381.5" fill="none" stroke="#000" stroke-width="0.95"/>
<polygon points="516.5,330.55 514.06,328.73 511.01,332.09 511.01,349.46 513.6,352.35 516.5,349.28" fill="none" stroke="#000" stroke-width="0.95"/>
<polygon points="516.5,357.78 513.58,354.7 511.01,357.44 511.01,374.91 514.06,378.27 516.5,376.45" fill="none" stroke="#000" stroke-width="0.95"/>
<rect x="267.6" y="376.4" width="5.8" height="5.8" rx="0" fill="none" stroke="#000" stroke-width="1"/>
<rect x="473.4" y="376.2" width="5.8" height="5.8" rx="0" fill="none" stroke="#000" stroke-width="1"/>
<polygon points="155.28,429.8 165,429.8 170.46,424.94 173.5,420.69 173.5,417.04 164.69,397.3 160.44,403.98 156.5,397.3 148,414.01 148.3,423.12 152.86,428.58" fill="none" stroke="#000" stroke-width="1"/>
<polygon points="156.5,403.68 151.04,414.01 151.04,422.51 154.07,426.15 156.5,426.15 155.59,414.01 158.02,407.93" fill="none" stroke="#000" stroke-width="1"/>
<polygon points="163.18,403.68 158.93,414.01 158.93,422.51 162.57,426.15 167.43,426.15 170.46,422.31 170.46,415.22" fill="none" stroke="#000" stroke-width="1"/>
<polygon points="163.78,413.4 160.65,419.67 162.67,422.91 166.01,422.51 167.02,419.07" fill="none" stroke="#000" stroke-width="1"/>
<polygon points="206.98,429.8 216.7,429.8 222.16,424.94 225.2,420.69 225.2,417.04 216.39,397.3 212.14,403.98 208.2,397.3 199.7,414.01 200,423.12 204.56,428.58" fill="none" stroke="#000" stroke-width="1"/>
<polygon points="208.2,403.68 202.74,414.01 202.74,422.51 205.77,426.15 208.2,426.15 207.29,414.01 209.72,407.93" fill="none" stroke="#000" stroke-width="1"/>
<polygon points="214.88,403.68 210.63,414.01 210.63,422.51 214.27,426.15 219.13,426.15 222.16,422.31 222.16,415.22" fill="none" stroke="#000" stroke-width="1"/>
<polygon points="215.48,413.4 212.35,419.67 214.37,422.91 217.71,422.51 218.72,419.07" fill="none" stroke="#000" stroke-width="1"/>
<polygon points="252.88,429.8 262.6,429.8 268.06,424.94 271.1,420.69 271.1,417.04 262.29,397.3 258.04,403.98 254.1,397.3 245.6,414.01 245.9,423.12 250.46,428.58" fill="none" stroke="#000" stroke-width="1"/>
<polygon points="254.1,403.68 248.64,414.01 248.64,422.51 251.67,426.15 254.1,426.15 253.19,414.01 255.62,407.93" fill="none" stroke="#000" stroke-width="1"/>
<polygon points="260.78,403.68 256.53,414.01 256.53,422.51 260.17,426.15 265.03,426.15 268.06,422.31 268.06,415.22" fill="none" stroke="#000" stroke-width="1"/>
<polygon points="261.38,413.4 258.25,419.67 260.27,422.91 263.61,422.51 264.62,419.07" fill="none" stroke="#000" stroke-width="1"/>
<polygon points="297.98,429.8 307.7,429.8 313.16,424.94 316.2,420.69 316.2,417.04 307.39,397.3 303.14,403.98 299.2,397.3 290.7,414.01 291,423.12 295.56,428.58" fill="none" stroke="#000" stroke-width="1"/>
<polygon points="299.2,403.68 293.74,414.01 293.74,422.51 296.77,426.15 299.2,426.15 298.29,414.01 300.72,407.93" fill="none" stroke="#000" stroke-width="1"/>
<polygon points="305.88,403.68 301.63,414.01 301.63,422.51 305.27,426.15 310.13,426.15 313.16,422.31 313.16,415.22" fill="none" stroke="#000" stroke-width="1"/>
<polygon points="306.48,413.4 303.35,419.67 305.37,422.91 308.71,422.51 309.72,419.07" fill="none" stroke="#000" stroke-width="1"/>
<polygon points="348.68,429.8 358.4,429.8 363.86,424.94 366.9,420.69 366.9,417.04 358.09,397.3 353.84,403.98 349.9,397.3 341.4,414.01 341.7,423.12 346.26,428.58" fill="none" stroke="#000" stroke-width="1"/>
<polygon points="349.9,403.68 344.44,414.01 344.44,422.51 347.47,426.15 349.9,426.15 348.99,414.01 351.42,407.93" fill="none" stroke="#000" stroke-width="1"/>
<polygon points="356.58,403.68 352.33,414.01 352.33,422.51 355.97,426.15 360.83,426.15 363.86,422.31 363.86,415.22" fill="none" stroke="#000" stroke-width="1"/>
<polygon points="357.18,413.4 354.05,419.67 356.07,422.91 359.41,422.51 360.42,419.07" fill="none" stroke="#000" stroke-width="1"/>
<polygon points="394.28,429.8 404,429.8 409.46,424.94 412.5,420.69 412.5,417.04 403.69,397.3 399.44,403.98 395.5,397.3 387,414.01 387.3,423.12 391.86,428.58" fill="none" stroke="#000" stroke-width="1"/>
<polygon points="395.5,403.68 390.04,414.01 390.04,422.51 393.07,426.15 395.5,426.15 394.59,414.01 397.02,407.93" fill="none" stroke="#000" stroke-width="1"/>
<polygon points="402.18,403.68 397.93,414.01 397.93,422.51 401.57,426.15 406.43,426.15 409.46,422.31 409.46,415.22" fill="none" stroke="#000" stroke-width="1"/>
<polygon points="402.78,413.4 399.65,419.67 401.67,422.91 405.01,422.51 406.02,419.07" fill="none" stroke="#000" stroke-width="1"/>
<polygon points="442.28,429.8 452,429.8 457.46,424.94 460.5,420.69 460.5,417.04 451.69,397.3 447.44,403.98 443.5,397.3 435,414.01 435.3,423.12 439.86,428.58" fill="none" stroke="#000" stroke-width="1"/>
<polygon points="443.5,403.68 438.04,414.01 438.04,422.51 441.07,426.15 443.5,426.15 442.59,414.01 445.02,407.93" fill="none" stroke="#000" stroke-width="1"/>
<polygon points="450.18,403.68 445.93,414.01 445.93,422.51 449.57,426.15 454.43,426.15 457.46,422.31 457.46,415.22" fill="none" stroke="#000" stroke-width="1"/>
<polygon points="450.78,413.4 447.65,419.67 449.67,422.91 453.01,422.51 454.02,419.07" fill="none" stroke="#000" stroke-width="1"/>
<polygon points="493.28,429.8 503,429.8 508.46,424.94 511.5,420.69 511.5,417.04 502.69,397.3 498.44,403.98 494.5,397.3 486,414.01 486.3,423.12 490.86,428.58" fill="none" stroke="#000" stroke-width="1"/>
<polygon points="494.5,403.68 489.04,414.01 489.04,422.51 492.07,426.15 494.5,426.15 493.59,414.01 496.02,407.93" fill="none" stroke="#000" stroke-width="1"/>
<polygon points="501.18,403.68 496.93,414.01 496.93,422.51 500.57,426.15 505.43,426.15 508.46,422.31 508.46,415.22" fill="none" stroke="#000" stroke-width="1"/>
<polygon points="501.78,413.4 498.65,419.67 500.67,422.91 504.01,422.51 505.02,419.07" fill="none" stroke="#000" stroke-width="1"/>
<path d="M141.7 196.65A4.1 6.65 0 1 0 149.9 196.65A4.1 6.65 0 1 0 141.7 196.65Z M151.7 197.1H153.3 M154.6 189.2V208.1 M158.2 189.2V208.9 M167.3 193.1A3.75 4.4 0 1 0 174.8 193.1A3.75 4.4 0 1 0 167.3 193.1Z M182.4 189.2V198.7 M182.6 191.1H185 M182.6 196H185 M169.5 202 L182.4 202 L182.4 208.5 M224.3 189.85 L215.7 189.85 L215.7 204.55 L227.2 204.55 M215.9 196.65H223.3 M228.65 189.4V206.5 M228.9 196H230.3 M238.5 198.5A3.05 7 0 1 0 244.6 198.5A3.05 7 0 1 0 238.5 198.5Z M251.75 189.2V207.3 M260 192.1H266.1V203.9H260Z M272 189.2V207.3 M269 196.9H270.6 M304.2 193.95A4.8 3.95 0 1 0 313.8 193.95A4.8 3.95 0 1 0 304.2 193.95Z M309 200.2V202.8 M302.2 204.9H315.8 M319.9 189.2V207.7 M336.1 187.9V187.5 M329.3 189.9H343 M329.1 194.5 L336.1 190.8 L343.2 194.5 M327.3 197.6H345 M336.1 198.9V199 M330.7 200.7 L339.5 200.7 L339.5 203.9 L330.7 203.9 L330.7 207.3 L343.5 207.3 M379.7 191.8A6.7 2.9 0 1 0 393.1 191.8A6.7 2.9 0 1 0 379.7 191.8Z M386.8 197.4V198 M376.7 199.55H396 M380.7 203.8 L380.7 207.15 L393.3 207.15 M410.9 188.9V189.5 M402.9 194.8 L410.9 189.8 L418.9 194.8 M402 199.6H419.6 M410.7 201.3V207.8 M445.95 188.7 L445.95 196.7 L455.5 196.7 M458.95 188.9V202.8 M459.3 194.8H461.8 M448.65 202.8 L448.65 208.05 L461 208.05 M469.8 189.6V198 M477.6 189.6V198 M469.7 192.9H477.7 M469.7 198H477.7 M483.85 188.7V199.7 M484.7 194.2H487.5 M471.7 205.9A6.7 3 0 1 0 485.1 205.9A6.7 3 0 1 0 471.7 205.9Z M502.55 189.2V189.73 M494.74 194.96 L502.55 190.05 L510.36 194.96 M493.9 199.68H511 M502.35 201.38V207.7 M450.4 234.5V241.8 M461.4 234.5V241.8 M450.9 237.1H460.9 M450.9 242.2H460.9 M456 245.2V245.3 M447.9 248H463.7 M470.9 236.45A4 3.65 0 1 0 478.9 236.45A4 3.65 0 1 0 470.9 236.45Z M485.8 232.8V242.2 M474.5 245.4 L486.3 245.4 L486.3 248.1 L474.5 248.1 L474.5 251.4 L487.9 251.4 M493.7 235.5 L502 235.5 L502 241 L493.7 241 L493.7 246.5 L502.5 246.5 M509.2 233V251.3 M504.7 240.3H507.5 M140.3 236.45H144 M136 240.55H149.05 M138 246.4A3.95 1.8 0 1 0 145.9 246.4A3.95 1.8 0 1 0 138 246.4Z M155.85 236V252.1 M151.5 244.6H153.6 M151.5 248.3H153.6 M139.65 254.1 L139.65 258.2 L155.9 258.2 M161 239.35H169.3 M160.1 252.7 L164.8 240.8 M164.8 245.6 L170.3 253.5 M174.6 236.4V258 M180.8 236.4V258 M177 247.6H178.6 M188 239.35A7.85 2.65 0 1 0 203.7 239.35A7.85 2.65 0 1 0 188 239.35Z M196.05 244.7V246.3 M184.9 248.35H204.9 M188.65 252.5 L188.65 258.3 L203.9 258.3 M225.8 237.45 L211.5 237.45 L211.5 247.25 L227.4 247.25 M218.5 248.95V253.05 M209.1 255.75H228.7 M342 247.1 L347.4 237.8 L353 245.9 M359.85 238V247.9 M356.2 242.75H358.2 M347.3 251.5 L359.2 251.5 L359.2 254.3 L347.3 254.3 L347.3 257.1 L359.6 257.1 M367 238.85H376.1 M366.5 247.3 L371.7 239.8 L376.9 246.8 M383.7 238V247.9 M379.5 243.7H382 M369 254.4A7.2 2.2 0 1 0 383.4 254.4A7.2 2.2 0 1 0 369 254.4Z M392.35 240.07A7.4 2.47 0 1 0 407.16 240.07A7.4 2.47 0 1 0 392.35 240.07Z M399.95 245.28V246.67 M389.4 248.71H408.3 M392.89 252.69 L392.89 258.26 L407.43 258.26 M429.8 237.63 L415.19 237.63 L415.19 248.48 L431.43 248.48 M422.34 250.18V255.08 M412.7 257.88H432.8 M272.4 301.9V305.5 M267.4 311.4 L272.4 306.5 L277.8 312.8 M281.15 301.9V313.7 M474.7 301.6V305.2 M488.2 301.6V305.2 M474.9 304.3H488 M473.9 308.7H489 M478.5 310.6V310.2 M474.7 312.4 L474.7 314.3 L488.7 314.3" fill="none" stroke="#000" stroke-width="3.4" stroke-linecap="square" stroke-linejoin="miter" stroke-miterlimit="3"/>
<path d="M138.9 438 L150.5 438 L150.3 444.6 L146.9 449.4 L138.7 453.2 M155.25 438.15V455.15 M151.35 445.8H152.05 M162.5 444.2 L171.3 438 L176.9 445.8 M179.75 438.15V446.55 M166.2 448.6 L179.7 448.6 L179.7 452 L166.2 452 L166.2 455.3 L180.9 455.3" fill="none" stroke="#000" stroke-width="3.7" stroke-linecap="square" stroke-linejoin="miter" stroke-miterlimit="3"/>
<path d="M195.8 437.85V445.05 M204.5 437.85V445.05 M195.95 440.8H204.35 M195.95 445.2H204.35 M209.3 437.85V447.55 M209.95 442.2H211.25 M197.15 452.9A6.15 2.85 0 1 0 209.45 452.9A6.15 2.85 0 1 0 197.15 452.9Z M239.9 437.85V445.05 M248.6 437.85V445.05 M240.05 440.8H248.45 M240.05 445.2H248.45 M253.4 437.85V447.55 M254.05 442.2H255.35 M241.25 452.9A6.15 2.85 0 1 0 253.55 452.9A6.15 2.85 0 1 0 241.25 452.9Z M289.1 437.85V445.05 M297.8 437.85V445.05 M289.25 440.8H297.65 M289.25 445.2H297.65 M302.6 437.85V447.55 M303.25 442.2H304.55 M290.45 452.9A6.15 2.85 0 1 0 302.75 452.9A6.15 2.85 0 1 0 290.45 452.9Z M338.5 437.85V445.05 M347.2 437.85V445.05 M338.65 440.8H347.05 M338.65 445.2H347.05 M352 437.85V447.55 M352.65 442.2H353.95 M339.85 452.9A6.15 2.85 0 1 0 352.15 452.9A6.15 2.85 0 1 0 339.85 452.9Z M386.1 437.85V445.05 M394.8 437.85V445.05 M386.25 440.8H394.65 M386.25 445.2H394.65 M399.6 437.85V447.55 M400.25 442.2H401.55 M387.45 452.9A6.15 2.85 0 1 0 399.75 452.9A6.15 2.85 0 1 0 387.45 452.9Z M434.1 437.85V445.05 M442.8 437.85V445.05 M434.25 440.8H442.65 M434.25 445.2H442.65 M447.6 437.85V447.55 M448.25 442.2H449.55 M435.45 452.9A6.15 2.85 0 1 0 447.75 452.9A6.15 2.85 0 1 0 435.45 452.9Z M483.5 437.85V445.05 M492.2 437.85V445.05 M483.65 440.8H492.05 M483.65 445.2H492.05 M497 437.85V447.55 M497.65 442.2H498.95 M484.85 452.9A6.15 2.85 0 1 0 497.15 452.9A6.15 2.85 0 1 0 484.85 452.9Z" fill="none" stroke="#000" stroke-width="3.3" stroke-linecap="square" stroke-linejoin="miter" stroke-miterlimit="3"/>
<path d="M287 297A3.5 3.1 0 1 0 294 297A3.5 3.1 0 1 0 287 297Z M492.6 296.9A3.5 3.1 0 1 0 499.6 296.9A3.5 3.1 0 1 0 492.6 296.9Z" fill="none" stroke="#000" stroke-width="3.0" stroke-linecap="square" stroke-linejoin="miter" stroke-miterlimit="3"/>
<path d="M311.11 301.95A7.5 8.2 0 1 0 311.11 312.05 M516.01 302.25A7.5 8.2 0 1 0 516.01 312.35" fill="none" stroke="#000" stroke-width="4.2" stroke-linecap="square" stroke-linejoin="miter" stroke-miterlimit="3"/>
<path d="M141.7 196.65A4.1 6.65 0 1 0 149.9 196.65A4.1 6.65 0 1 0 141.7 196.65Z M151.7 197.1H153.3 M154.6 189.2V208.1 M158.2 189.2V208.9 M167.3 193.1A3.75 4.4 0 1 0 174.8 193.1A3.75 4.4 0 1 0 167.3 193.1Z M182.4 189.2V198.7 M182.6 191.1H185 M182.6 196H185 M169.5 202 L182.4 202 L182.4 208.5 M224.3 189.85 L215.7 189.85 L215.7 204.55 L227.2 204.55 M215.9 196.65H223.3 M228.65 189.4V206.5 M228.9 196H230.3 M238.5 198.5A3.05 7 0 1 0 244.6 198.5A3.05 7 0 1 0 238.5 198.5Z M251.75 189.2V207.3 M260 192.1H266.1V203.9H260Z M272 189.2V207.3 M269 196.9H270.6 M304.2 193.95A4.8 3.95 0 1 0 313.8 193.95A4.8 3.95 0 1 0 304.2 193.95Z M309 200.2V202.8 M302.2 204.9H315.8 M319.9 189.2V207.7 M336.1 187.9V187.5 M329.3 189.9H343 M329.1 194.5 L336.1 190.8 L343.2 194.5 M327.3 197.6H345 M336.1 198.9V199 M330.7 200.7 L339.5 200.7 L339.5 203.9 L330.7 203.9 L330.7 207.3 L343.5 207.3 M379.7 191.8A6.7 2.9 0 1 0 393.1 191.8A6.7 2.9 0 1 0 379.7 191.8Z M386.8 197.4V198 M376.7 199.55H396 M380.7 203.8 L380.7 207.15 L393.3 207.15 M410.9 188.9V189.5 M402.9 194.8 L410.9 189.8 L418.9 194.8 M402 199.6H419.6 M410.7 201.3V207.8 M445.95 188.7 L445.95 196.7 L455.5 196.7 M458.95 188.9V202.8 M459.3 194.8H461.8 M448.65 202.8 L448.65 208.05 L461 208.05 M469.8 189.6V198 M477.6 189.6V198 M469.7 192.9H477.7 M469.7 198H477.7 M483.85 188.7V199.7 M484.7 194.2H487.5 M471.7 205.9A6.7 3 0 1 0 485.1 205.9A6.7 3 0 1 0 471.7 205.9Z M502.55 189.2V189.73 M494.74 194.96 L502.55 190.05 L510.36 194.96 M493.9 199.68H511 M502.35 201.38V207.7 M450.4 234.5V241.8 M461.4 234.5V241.8 M450.9 237.1H460.9 M450.9 242.2H460.9 M456 245.2V245.3 M447.9 248H463.7 M470.9 236.45A4 3.65 0 1 0 478.9 236.45A4 3.65 0 1 0 470.9 236.45Z M485.8 232.8V242.2 M474.5 245.4 L486.3 245.4 L486.3 248.1 L474.5 248.1 L474.5 251.4 L487.9 251.4 M493.7 235.5 L502 235.5 L502 241 L493.7 241 L493.7 246.5 L502.5 246.5 M509.2 233V251.3 M504.7 240.3H507.5 M140.3 236.45H144 M136 240.55H149.05 M138 246.4A3.95 1.8 0 1 0 145.9 246.4A3.95 1.8 0 1 0 138 246.4Z M155.85 236V252.1 M151.5 244.6H153.6 M151.5 248.3H153.6 M139.65 254.1 L139.65 258.2 L155.9 258.2 M161 239.35H169.3 M160.1 252.7 L164.8 240.8 M164.8 245.6 L170.3 253.5 M174.6 236.4V258 M180.8 236.4V258 M177 247.6H178.6 M188 239.35A7.85 2.65 0 1 0 203.7 239.35A7.85 2.65 0 1 0 188 239.35Z M196.05 244.7V246.3 M184.9 248.35H204.9 M188.65 252.5 L188.65 258.3 L203.9 258.3 M225.8 237.45 L211.5 237.45 L211.5 247.25 L227.4 247.25 M218.5 248.95V253.05 M209.1 255.75H228.7 M342 247.1 L347.4 237.8 L353 245.9 M359.85 238V247.9 M356.2 242.75H358.2 M347.3 251.5 L359.2 251.5 L359.2 254.3 L347.3 254.3 L347.3 257.1 L359.6 257.1 M367 238.85H376.1 M366.5 247.3 L371.7 239.8 L376.9 246.8 M383.7 238V247.9 M379.5 243.7H382 M369 254.4A7.2 2.2 0 1 0 383.4 254.4A7.2 2.2 0 1 0 369 254.4Z M392.35 240.07A7.4 2.47 0 1 0 407.16 240.07A7.4 2.47 0 1 0 392.35 240.07Z M399.95 245.28V246.67 M389.4 248.71H408.3 M392.89 252.69 L392.89 258.26 L407.43 258.26 M429.8 237.63 L415.19 237.63 L415.19 248.48 L431.43 248.48 M422.34 250.18V255.08 M412.7 257.88H432.8 M272.4 301.9V305.5 M267.4 311.4 L272.4 306.5 L277.8 312.8 M281.15 301.9V313.7 M474.7 301.6V305.2 M488.2 301.6V305.2 M474.9 304.3H488 M473.9 308.7H489 M478.5 310.6V310.2 M474.7 312.4 L474.7 314.3 L488.7 314.3" fill="none" stroke="#fff" stroke-width="1.4" stroke-linecap="square" stroke-linejoin="miter" stroke-miterlimit="3"/>
<path d="M138.9 438 L150.5 438 L150.3 444.6 L146.9 449.4 L138.7 453.2 M155.25 438.15V455.15 M151.35 445.8H152.05 M162.5 444.2 L171.3 438 L176.9 445.8 M179.75 438.15V446.55 M166.2 448.6 L179.7 448.6 L179.7 452 L166.2 452 L166.2 455.3 L180.9 455.3" fill="none" stroke="#fff" stroke-width="1.7" stroke-linecap="square" stroke-linejoin="miter" stroke-miterlimit="3"/>
<path d="M195.8 437.85V445.05 M204.5 437.85V445.05 M195.95 440.8H204.35 M195.95 445.2H204.35 M209.3 437.85V447.55 M209.95 442.2H211.25 M197.15 452.9A6.15 2.85 0 1 0 209.45 452.9A6.15 2.85 0 1 0 197.15 452.9Z M239.9 437.85V445.05 M248.6 437.85V445.05 M240.05 440.8H248.45 M240.05 445.2H248.45 M253.4 437.85V447.55 M254.05 442.2H255.35 M241.25 452.9A6.15 2.85 0 1 0 253.55 452.9A6.15 2.85 0 1 0 241.25 452.9Z M289.1 437.85V445.05 M297.8 437.85V445.05 M289.25 440.8H297.65 M289.25 445.2H297.65 M302.6 437.85V447.55 M303.25 442.2H304.55 M290.45 452.9A6.15 2.85 0 1 0 302.75 452.9A6.15 2.85 0 1 0 290.45 452.9Z M338.5 437.85V445.05 M347.2 437.85V445.05 M338.65 440.8H347.05 M338.65 445.2H347.05 M352 437.85V447.55 M352.65 442.2H353.95 M339.85 452.9A6.15 2.85 0 1 0 352.15 452.9A6.15 2.85 0 1 0 339.85 452.9Z M386.1 437.85V445.05 M394.8 437.85V445.05 M386.25 440.8H394.65 M386.25 445.2H394.65 M399.6 437.85V447.55 M400.25 442.2H401.55 M387.45 452.9A6.15 2.85 0 1 0 399.75 452.9A6.15 2.85 0 1 0 387.45 452.9Z M434.1 437.85V445.05 M442.8 437.85V445.05 M434.25 440.8H442.65 M434.25 445.2H442.65 M447.6 437.85V447.55 M448.25 442.2H449.55 M435.45 452.9A6.15 2.85 0 1 0 447.75 452.9A6.15 2.85 0 1 0 435.45 452.9Z M483.5 437.85V445.05 M492.2 437.85V445.05 M483.65 440.8H492.05 M483.65 445.2H492.05 M497 437.85V447.55 M497.65 442.2H498.95 M484.85 452.9A6.15 2.85 0 1 0 497.15 452.9A6.15 2.85 0 1 0 484.85 452.9Z" fill="none" stroke="#fff" stroke-width="1.3" stroke-linecap="square" stroke-linejoin="miter" stroke-miterlimit="3"/>
<path d="M287 297A3.5 3.1 0 1 0 294 297A3.5 3.1 0 1 0 287 297Z M492.6 296.9A3.5 3.1 0 1 0 499.6 296.9A3.5 3.1 0 1 0 492.6 296.9Z" fill="none" stroke="#fff" stroke-width="1" stroke-linecap="square" stroke-linejoin="miter" stroke-miterlimit="3"/>
<path d="M311.11 301.95A7.5 8.2 0 1 0 311.11 312.05 M516.01 302.25A7.5 8.2 0 1 0 516.01 312.35" fill="none" stroke="#fff" stroke-width="2.2" stroke-linecap="square" stroke-linejoin="miter" stroke-miterlimit="3"/>
<defs><filter id="gs" x="0" y="0" width="1" height="1"><feColorMatrix type="saturate" values="0"/></filter></defs>
<g filter="url(#gs)"><path d="M219.2 436.6 H224.6 V455.4 H219.6 V443.6 H215.2 V440.4 C217.2 439.8 218.6 438.4 219.2 436.6Z" fill="#fff" stroke="#000" stroke-width="1"/>
<text x="258.8" y="454.3" font-family="Liberation Sans" font-weight="bold" font-size="24.2" fill="#000" stroke="#000" stroke-width="3.1" stroke-linejoin="round" textLength="13.41" lengthAdjust="spacingAndGlyphs">2</text>
<text x="258.8" y="454.3" font-family="Liberation Sans" font-weight="bold" font-size="24.2" fill="#fff" stroke="#fff" stroke-width="1" stroke-linejoin="round" textLength="13.41" lengthAdjust="spacingAndGlyphs">2</text>
<text x="307" y="454.3" font-family="Liberation Sans" font-weight="bold" font-size="24.2" fill="#000" stroke="#000" stroke-width="3.1" stroke-linejoin="round" textLength="14.96" lengthAdjust="spacingAndGlyphs">3</text>
<text x="307" y="454.3" font-family="Liberation Sans" font-weight="bold" font-size="24.2" fill="#fff" stroke="#fff" stroke-width="1" stroke-linejoin="round" textLength="14.96" lengthAdjust="spacingAndGlyphs">3</text>
<text x="354.4" y="454.3" font-family="Liberation Sans" font-weight="bold" font-size="24.2" fill="#000" stroke="#000" stroke-width="3.1" stroke-linejoin="round" textLength="16.96" lengthAdjust="spacingAndGlyphs">4</text>
<text x="354.4" y="454.3" font-family="Liberation Sans" font-weight="bold" font-size="24.2" fill="#fff" stroke="#fff" stroke-width="1" stroke-linejoin="round" textLength="16.96" lengthAdjust="spacingAndGlyphs">4</text>
<text x="402.5" y="454.3" font-family="Liberation Sans" font-weight="bold" font-size="24.2" fill="#000" stroke="#000" stroke-width="3.1" stroke-linejoin="round" textLength="17.42" lengthAdjust="spacingAndGlyphs">5</text>
<text x="402.5" y="454.3" font-family="Liberation Sans" font-weight="bold" font-size="24.2" fill="#fff" stroke="#fff" stroke-width="1" stroke-linejoin="round" textLength="17.42" lengthAdjust="spacingAndGlyphs">5</text>
<text x="450.6" y="454.3" font-family="Liberation Sans" font-weight="bold" font-size="24.2" fill="#000" stroke="#000" stroke-width="3.1" stroke-linejoin="round" textLength="17.15" lengthAdjust="spacingAndGlyphs">6</text>
<text x="450.6" y="454.3" font-family="Liberation Sans" font-weight="bold" font-size="24.2" fill="#fff" stroke="#fff" stroke-width="1" stroke-linejoin="round" textLength="17.15" lengthAdjust="spacingAndGlyphs">6</text>
<text x="500.1" y="454.3" font-family="Liberation Sans" font-weight="bold" font-size="24.2" fill="#000" stroke="#000" stroke-width="3.1" stroke-linejoin="round" textLength="19.52" lengthAdjust="spacingAndGlyphs">7</text>
<text x="500.1" y="454.3" font-family="Liberation Sans" font-weight="bold" font-size="24.2" fill="#fff" stroke="#fff" stroke-width="1" stroke-linejoin="round" textLength="19.52" lengthAdjust="spacingAndGlyphs">7</text></g>
<rect x="116.1" y="567.4" width="426.2" height="3.1" fill="none" stroke="#000" stroke-width="1"/>
<rect x="111.6" y="570.5" width="434.8" height="8.8" fill="none" stroke="#000" stroke-width="1"/>
<line x1="111.6" y1="575.6" x2="546.4" y2="575.6" stroke="#000" stroke-width="1"/>
<rect x="116.1" y="579.3" width="426.2" height="3" fill="none" stroke="#000" stroke-width="1"/>
<path d="M111.6 570.5 L107.5 570.5 C105 570.5 103.6 572.5 103.6 574.9 C103.6 577.3 105 579.3 107.5 579.3 L111.6 579.3" fill="#fff" stroke="#000" stroke-width="1"/>
<rect x="191.5" y="572.6" width="7.9" height="9.6" fill="none" stroke="#000" stroke-width="1"/>
<path d="M191.5 582.2 L193.3 584 L193.3 598.3 L197.6 596.4 L197.6 584 L199.4 582.2" fill="#fff" stroke="#000" stroke-width="1" stroke-linejoin="miter"/>
<path d="M193.3 602 L197.6 600 L197.6 619.3 L193.3 619.3 Z" fill="#fff" stroke="#000" stroke-width="1"/>
<rect x="208.26" y="572.6" width="7.9" height="9.6" fill="none" stroke="#000" stroke-width="1"/>
<path d="M208.26 582.2 L210.06 584 L210.06 598.3 L214.36 596.4 L214.36 584 L216.16 582.2" fill="#fff" stroke="#000" stroke-width="1" stroke-linejoin="miter"/>
<path d="M210.06 602 L214.36 600 L214.36 619.3 L210.06 619.3 Z" fill="#fff" stroke="#000" stroke-width="1"/>
<rect x="225.02" y="572.6" width="7.9" height="9.6" fill="none" stroke="#000" stroke-width="1"/>
<path d="M225.02 582.2 L226.82 584 L226.82 598.3 L231.12 596.4 L231.12 584 L232.92 582.2" fill="#fff" stroke="#000" stroke-width="1" stroke-linejoin="miter"/>
<path d="M226.82 602 L231.12 600 L231.12 619.3 L226.82 619.3 Z" fill="#fff" stroke="#000" stroke-width="1"/>
<rect x="241.78" y="572.6" width="7.9" height="9.6" fill="none" stroke="#000" stroke-width="1"/>
<path d="M241.78 582.2 L243.58 584 L243.58 598.3 L247.88 596.4 L247.88 584 L249.68 582.2" fill="#fff" stroke="#000" stroke-width="1" stroke-linejoin="miter"/>
<path d="M243.58 602 L247.88 600 L247.88 619.3 L243.58 619.3 Z" fill="#fff" stroke="#000" stroke-width="1"/>
<rect x="258.54" y="572.6" width="7.9" height="9.6" fill="none" stroke="#000" stroke-width="1"/>
<path d="M258.54 582.2 L260.34 584 L260.34 598.3 L264.64 596.4 L264.64 584 L266.44 582.2" fill="#fff" stroke="#000" stroke-width="1" stroke-linejoin="miter"/>
<path d="M260.34 602 L264.64 600 L264.64 619.3 L260.34 619.3 Z" fill="#fff" stroke="#000" stroke-width="1"/>
<rect x="275.3" y="572.6" width="7.9" height="9.6" fill="none" stroke="#000" stroke-width="1"/>
<path d="M275.3 582.2 L277.1 584 L277.1 598.3 L281.4 596.4 L281.4 584 L283.2 582.2" fill="#fff" stroke="#000" stroke-width="1" stroke-linejoin="miter"/>
<path d="M277.1 602 L281.4 600 L281.4 619.3 L277.1 619.3 Z" fill="#fff" stroke="#000" stroke-width="1"/>
<rect x="292.06" y="572.6" width="7.9" height="9.6" fill="none" stroke="#000" stroke-width="1"/>
<path d="M292.06 582.2 L293.86 584 L293.86 598.3 L298.16 596.4 L298.16 584 L299.96 582.2" fill="#fff" stroke="#000" stroke-width="1" stroke-linejoin="miter"/>
<path d="M293.86 602 L298.16 600 L298.16 619.3 L293.86 619.3 Z" fill="#fff" stroke="#000" stroke-width="1"/>
<rect x="308.82" y="572.6" width="7.9" height="9.6" fill="none" stroke="#000" stroke-width="1"/>
<path d="M308.82 582.2 L310.62 584 L310.62 598.3 L314.92 596.4 L314.92 584 L316.72 582.2" fill="#fff" stroke="#000" stroke-width="1" stroke-linejoin="miter"/>
<path d="M310.62 602 L314.92 600 L314.92 619.3 L310.62 619.3 Z" fill="#fff" stroke="#000" stroke-width="1"/>
<rect x="325.58" y="572.6" width="7.9" height="9.6" fill="none" stroke="#000" stroke-width="1"/>
<path d="M325.58 582.2 L327.38 584 L327.38 598.3 L331.68 596.4 L331.68 584 L333.48 582.2" fill="#fff" stroke="#000" stroke-width="1" stroke-linejoin="miter"/>
<path d="M327.38 602 L331.68 600 L331.68 619.3 L327.38 619.3 Z" fill="#fff" stroke="#000" stroke-width="1"/>
<rect x="342.34" y="572.6" width="7.9" height="9.6" fill="none" stroke="#000" stroke-width="1"/>
<path d="M342.34 582.2 L344.14 584 L344.14 598.3 L348.44 596.4 L348.44 584 L350.24 582.2" fill="#fff" stroke="#000" stroke-width="1" stroke-linejoin="miter"/>
<path d="M344.14 602 L348.44 600 L348.44 619.3 L344.14 619.3 Z" fill="#fff" stroke="#000" stroke-width="1"/>
<rect x="359.1" y="572.6" width="7.9" height="9.6" fill="none" stroke="#000" stroke-width="1"/>
<path d="M359.1 582.2 L360.9 584 L360.9 598.3 L365.2 596.4 L365.2 584 L367 582.2" fill="#fff" stroke="#000" stroke-width="1" stroke-linejoin="miter"/>
<path d="M360.9 602 L365.2 600 L365.2 619.3 L360.9 619.3 Z" fill="#fff" stroke="#000" stroke-width="1"/>
<rect x="375.86" y="572.6" width="7.9" height="9.6" fill="none" stroke="#000" stroke-width="1"/>
<path d="M375.86 582.2 L377.66 584 L377.66 598.3 L381.96 596.4 L381.96 584 L383.76 582.2" fill="#fff" stroke="#000" stroke-width="1" stroke-linejoin="miter"/>
<path d="M377.66 602 L381.96 600 L381.96 619.3 L377.66 619.3 Z" fill="#fff" stroke="#000" stroke-width="1"/>
<rect x="392.62" y="572.6" width="7.9" height="9.6" fill="none" stroke="#000" stroke-width="1"/>
<path d="M392.62 582.2 L394.42 584 L394.42 598.3 L398.72 596.4 L398.72 584 L400.52 582.2" fill="#fff" stroke="#000" stroke-width="1" stroke-linejoin="miter"/>
<path d="M394.42 602 L398.72 600 L398.72 619.3 L394.42 619.3 Z" fill="#fff" stroke="#000" stroke-width="1"/>
<rect x="409.38" y="572.6" width="7.9" height="9.6" fill="none" stroke="#000" stroke-width="1"/>
<path d="M409.38 582.2 L411.18 584 L411.18 598.3 L415.48 596.4 L415.48 584 L417.28 582.2" fill="#fff" stroke="#000" stroke-width="1" stroke-linejoin="miter"/>
<path d="M411.18 602 L415.48 600 L415.48 619.3 L411.18 619.3 Z" fill="#fff" stroke="#000" stroke-width="1"/>
<rect x="426.14" y="572.6" width="7.9" height="9.6" fill="none" stroke="#000" stroke-width="1"/>
<path d="M426.14 582.2 L427.94 584 L427.94 598.3 L432.24 596.4 L432.24 584 L434.04 582.2" fill="#fff" stroke="#000" stroke-width="1" stroke-linejoin="miter"/>
<path d="M427.94 602 L432.24 600 L432.24 619.3 L427.94 619.3 Z" fill="#fff" stroke="#000" stroke-width="1"/>
<rect x="442.9" y="572.6" width="7.9" height="9.6" fill="none" stroke="#000" stroke-width="1"/>
<path d="M442.9 582.2 L444.7 584 L444.7 598.3 L449 596.4 L449 584 L450.8 582.2" fill="#fff" stroke="#000" stroke-width="1" stroke-linejoin="miter"/>
<path d="M444.7 602 L449 600 L449 619.3 L444.7 619.3 Z" fill="#fff" stroke="#000" stroke-width="1"/>
<rect x="459.66" y="572.6" width="7.9" height="9.6" fill="none" stroke="#000" stroke-width="1"/>
<path d="M459.66 582.2 L461.46 584 L461.46 598.3 L465.76 596.4 L465.76 584 L467.56 582.2" fill="#fff" stroke="#000" stroke-width="1" stroke-linejoin="miter"/>
<path d="M461.46 602 L465.76 600 L465.76 619.3 L461.46 619.3 Z" fill="#fff" stroke="#000" stroke-width="1"/>
<line x1="429" y1="571.4" x2="429" y2="637" stroke="#3fd0da" stroke-width="1"/>
<line x1="426.9" y1="582.5" x2="426.9" y2="636" stroke="#3fd0da" stroke-width="1"/>
<line x1="431.7" y1="582.5" x2="431.7" y2="636" stroke="#3fd0da" stroke-width="1"/>
<path d="M410 630.5 C415 633.5, 421 634.2, 426.9 634" fill="none" stroke="#3fd0da" stroke-width="1"/>
<path d="M431.7 634 C438 634.2, 444 633, 448.7 631" fill="none" stroke="#3fd0da" stroke-width="1"/>
<path d="M413 631.2 L419 633.6 L418.6 634.8 Z M444 632.2 L438 634.2 L438.3 635.2 Z" fill="#fff" stroke="#3fd0da" stroke-width="0.8"/>
<text x="391" y="627" font-family="Liberation Sans" font-size="11.5" fill="#3fd0da" transform="rotate(22 391 627)" textLength="20" lengthAdjust="spacingAndGlyphs">±5°</text>
<text x="323.6" y="564.3" font-family="Liberation Sans" font-size="13.6" fill="#f2ec3a" textLength="42.6" lengthAdjust="spacingAndGlyphs">FRONT</text>
<text x="323.6" y="637.7" font-family="Liberation Sans" font-size="13.6" fill="#f2ec3a" textLength="34.3" lengthAdjust="spacingAndGlyphs">BACK</text>
<text x="-4.5" y="653.8" font-family="Liberation Sans" font-size="15" fill="#000" textLength="43" lengthAdjust="spacingAndGlyphs">TIONS</text>
<line x1="0" y1="654.8" x2="38.5" y2="654.8" stroke="#000" stroke-width="1"/>
<rect x="559.7" y="19.7" width="5.7" height="3.7" fill="none" stroke="#000" stroke-width="1.3"/>
<rect x="0" y="0" width="666" height="12.5" fill="#f0f0f0"/>
<rect x="0" y="12.5" width="666" height="1" fill="#fbfbfb"/>
<rect x="0" y="13.5" width="666" height="2.2" fill="#b9b9b9"/>
<rect x="0" y="15.7" width="666" height="1" fill="#dedede"/>
<rect x="0" y="16.7" width="666" height="2" fill="#6d6d6d"/>
<rect x="0" y="0" width="177.5" height="12.5" fill="#efefef"/>
<rect x="177.5" y="0" width="18.5" height="12.5" fill="#fafafa"/>
<circle cx="3.5" cy="4" r="3" fill="none" stroke="#fafafa" stroke-width="1.2"/>
<rect x="0" y="0" width="1.3" height="1.3" fill="#333"/>
<rect x="0" y="6.6" width="1.3" height="1.6" fill="#333"/>
<path d="M184 2.5 L188 6.5 L192 2.5" fill="none" stroke="#a8a8a8" stroke-width="1"/>
<line x1="196.5" y1="0" x2="196.5" y2="12.5" stroke="#c8c8c8" stroke-width="1"/>
<path d="M201 1.5 L208 -2 L215 1.5 L208 5 Z" fill="#9cc0e6" stroke="#5a7fb0" stroke-width="0.7"/>
<path d="M201 3.6 L208 7.1 L215 3.6" fill="none" stroke="#7d9cc8" stroke-width="0.8"/>
<path d="M201 5.2 L208 8.7 L215 5.2 L215 7.2 L208 10.7 L201 7.2 Z" fill="#e6dc2c" stroke="#a89c18" stroke-width="0.6"/>
<path d="M200.8 12 L204.2 8.6" fill="none" stroke="#1c2a78" stroke-width="1.3"/>
<path d="M202 8.3 L204.8 8 L204.5 10.8 Z" fill="#1c2a78"/>
<path d="M224 3 L231.5 -0.5 L239 3 L231.5 6.5 Z" fill="#b4cdec" stroke="#6483b4" stroke-width="0.7"/>
<path d="M224 5.5 L231.5 9 L239 5.5" fill="none" stroke="#6483b4" stroke-width="0.8"/>
<path d="M224 8 L231.5 11.5 L239 8" fill="none" stroke="#6483b4" stroke-width="0.8"/>
<path d="M231.8 -1 L231.8 4" fill="none" stroke="#18306e" stroke-width="1.6"/>
<path d="M229.3 3 L231.8 6 L234.3 3 Z" fill="#18306e"/>
<line x1="246.3" y1="0" x2="246.3" y2="13" stroke="#a6a6a6" stroke-width="1"/>
<line x1="247.5" y1="0" x2="247.5" y2="13" stroke="#ffffff" stroke-width="1"/>
<line x1="252.8" y1="0" x2="252.8" y2="13" stroke="#b5b5b5" stroke-width="1"/>
<line x1="257.3" y1="0" x2="257.3" y2="13" stroke="#b5b5b5" stroke-width="1"/>
<rect x="259" y="0" width="133" height="12.5" fill="#efefef"/>
<rect x="392" y="0" width="18.2" height="12.5" fill="#fafafa"/>
<rect x="267.5" y="-1" width="8.6" height="9.3" fill="#00ffff" stroke="#000" stroke-width="1"/>
<text x="281" y="7.6" font-family="Liberation Serif" font-size="11.5" fill="#3c3c3c" textLength="40.8" lengthAdjust="spacingAndGlyphs">ByLayer</text>
<path d="M398 2.5 L402 6.5 L406 2.5" fill="none" stroke="#a8a8a8" stroke-width="1"/>
<line x1="410.8" y1="0" x2="410.8" y2="13" stroke="#c8c8c8" stroke-width="1"/>
<line x1="413.2" y1="0" x2="413.2" y2="13" stroke="#505050" stroke-width="1"/>
<line x1="416.4" y1="0" x2="416.4" y2="13" stroke="#c0c0c0" stroke-width="1"/>
<rect x="418" y="0" width="140" height="12.5" fill="#efefef"/>
<rect x="558" y="0" width="18.5" height="12.5" fill="#fafafa"/>
<line x1="422" y1="4.3" x2="482.5" y2="4.3" stroke="#111" stroke-width="1.4"/>
<text x="486.8" y="7.6" font-family="Liberation Serif" font-size="11.5" fill="#3c3c3c" textLength="40.8" lengthAdjust="spacingAndGlyphs">ByLayer</text>
<path d="M563.5 2.5 L567.5 6.5 L571.5 2.5" fill="none" stroke="#a8a8a8" stroke-width="1"/>
<line x1="577" y1="0" x2="577" y2="13" stroke="#c8c8c8" stroke-width="1"/>
<line x1="579.3" y1="0" x2="579.3" y2="13" stroke="#505050" stroke-width="1"/>
<line x1="582.5" y1="0" x2="582.5" y2="13" stroke="#c0c0c0" stroke-width="1"/>
<rect x="584" y="0" width="82" height="12.5" fill="#efefef"/>
<line x1="588" y1="4.3" x2="622.8" y2="4.3" stroke="#111" stroke-width="1.4"/>
<text x="628.3" y="7.6" font-family="Liberation Serif" font-size="11.5" fill="#3c3c3c" textLength="40.8" lengthAdjust="spacingAndGlyphs">ByLayer</text>
</svg>
</body></html>
